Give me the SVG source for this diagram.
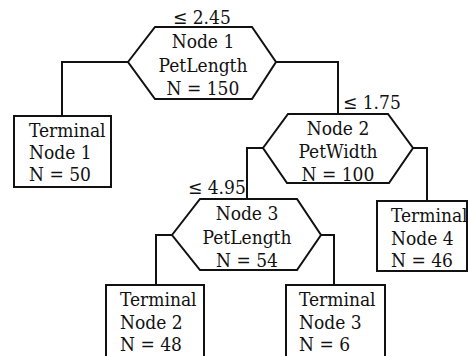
<svg xmlns="http://www.w3.org/2000/svg" width="468" height="356" viewBox="0 0 468 356">
<style>
.s{fill:none;stroke:#111;stroke-width:2;stroke-linejoin:miter}
.b{fill:#fff;stroke:#111;stroke-width:2}
text{font-family:"DejaVu Serif Condensed","DejaVu Serif",serif;font-stretch:condensed;font-size:19px;fill:#111}
.c{text-anchor:middle}
</style>
<rect width="468" height="356" fill="#fff"/>
<g id="connectors">
<polyline class="s" points="128,62 62,62 62,116"/>
<polyline class="s" points="276,62 338,62 338,115"/>
<polyline class="s" points="263,148 247,148 247,200"/>
<polyline class="s" points="413,148 427,148 427,201"/>
<polyline class="s" points="172,235 156,235 156,285"/>
<polyline class="s" points="321,235 334,235 334,285"/>
<text x="173" y="24">≤ 2.45</text>
<text x="343" y="109">≤ 1.75</text>
<text x="188" y="194">≤ 4.95</text>
</g>
<g id="node1">
<polygon class="b" points="128,62 155,27 252,27 276,62 252,99 155,99"/>
<text class="c" x="203" y="48">Node 1</text>
<text class="c" x="203" y="72">PetLength</text>
<text class="c" x="203" y="95">N = 150</text>
</g>
<g id="terminal1">
<rect class="b" x="14" y="116" width="97" height="71"/>
<text x="29" y="137">Terminal</text>
<text x="29" y="159">Node 1</text>
<text x="29" y="181">N = 50</text>
</g>
<g id="node2">
<polygon class="b" points="263,148 288,114 388,114 413,148 389,183 287,183"/>
<text class="c" x="338" y="135">Node 2</text>
<text class="c" x="338" y="158">PetWidth</text>
<text class="c" x="338" y="181">N = 100</text>
</g>
<g id="node3">
<polygon class="b" points="172,235 200,199 297,199 321,235 297,270 200,270"/>
<text class="c" x="247" y="220">Node 3</text>
<text class="c" x="247" y="244">PetLength</text>
<text class="c" x="247" y="267">N = 54</text>
</g>
<g id="terminal4">
<rect class="b" x="377" y="201" width="90" height="70"/>
<text x="391" y="222">Terminal</text>
<text x="391" y="245">Node 4</text>
<text x="391" y="267">N = 46</text>
</g>
<g id="terminal2">
<rect class="b" x="106" y="285" width="98" height="72"/>
<text x="120" y="306">Terminal</text>
<text x="120" y="329">Node 2</text>
<text x="120" y="351">N = 48</text>
</g>
<g id="terminal3">
<rect class="b" x="286" y="285" width="99" height="72"/>
<text x="299" y="306">Terminal</text>
<text x="299" y="329">Node 3</text>
<text x="299" y="351">N = 6</text>
</g>
</svg>
